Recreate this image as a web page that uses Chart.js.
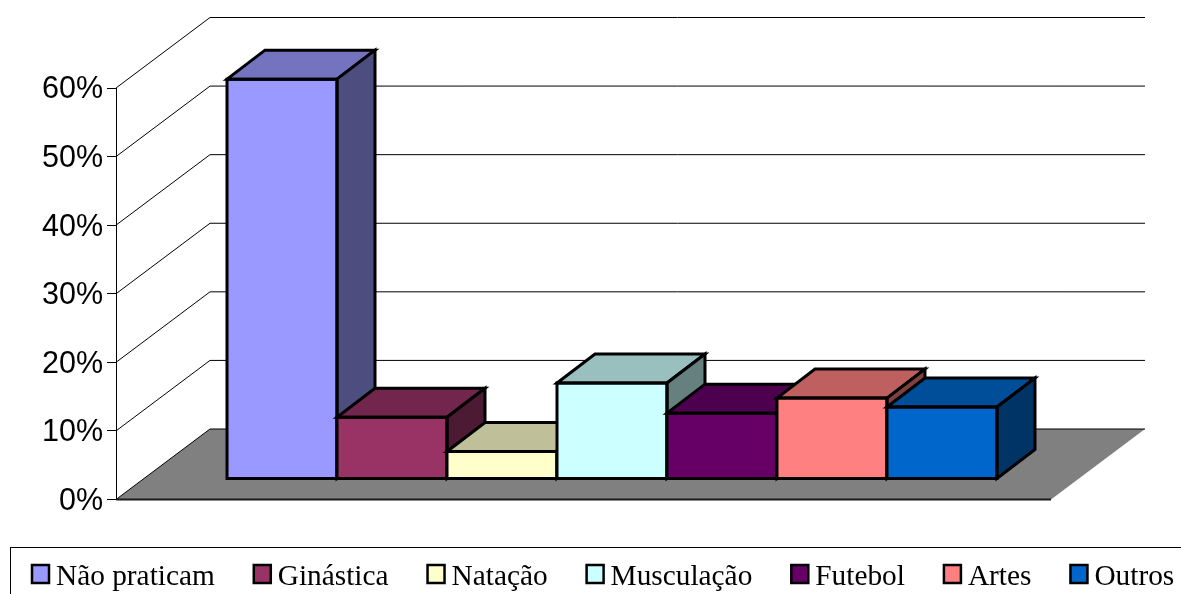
<!DOCTYPE html>
<html>
<head>
<meta charset="utf-8">
<title>Atividades</title>
<script src="https://cdn.jsdelivr.net/npm/chart.js@4"></script>
<style>
  body { margin: 0; background: #fff; }
  canvas { display: block; }
</style>
</head>
<body>
<canvas id="grafico" width="1181" height="594"></canvas>
<script>
const categorias = ["Não praticam", "Ginástica", "Natação", "Musculação", "Futebol", "Artes", "Outros"];
const valores = [58.3, 9, 4, 14, 9.6, 11.8, 10.5];
const cores = ["#9999FF", "#993366", "#FFFFCC", "#CCFFFF", "#660066", "#FF8080", "#0066CC"];

// profundidade do fundo do grafico e das barras
const WALL_DX = 94, WALL_DY = -70.5;
const BAR_DX = 38, BAR_DY = -29;
const BAR_SHIFT_X = 28.5, BAR_SHIFT_Y = -20.5;

function escurecer(hex, f) {
  const n = parseInt(hex.slice(1), 16);
  const r = Math.round((n >> 16 & 255) * f);
  const g = Math.round((n >> 8 & 255) * f);
  const b = Math.round((n & 255) * f);
  return `rgb(${r},${g},${b})`;
}

function poly(ctx, pts, fill, stroke, lw) {
  ctx.beginPath();
  pts.forEach((p, i) => (i ? ctx.lineTo(p[0], p[1]) : ctx.moveTo(p[0], p[1])));
  ctx.closePath();
  if (fill) {
    ctx.fillStyle = fill;
    ctx.fill();
  }
  if (stroke) {
    ctx.strokeStyle = stroke;
    ctx.lineWidth = lw;
    ctx.stroke();
  }
}

// paredes e chao
const fundo3d = {
  id: "fundo3d",
  beforeDatasetsDraw(chart) {
    const { ctx, chartArea: a, scales: { y } } = chart;
    ctx.save();
    poly(ctx, [
      [a.left, a.bottom],
      [a.left + WALL_DX, a.bottom + WALL_DY],
      [a.right + WALL_DX, a.bottom + WALL_DY],
      [a.right, a.bottom]
    ], "#808080");

    ctx.strokeStyle = "#000";
    ctx.lineWidth = 1;
    y.ticks.forEach((t) => {
      const py = y.getPixelForValue(t.value);
      ctx.beginPath();
      ctx.moveTo(a.left, py);
      ctx.lineTo(a.left + WALL_DX, py + WALL_DY);
      ctx.lineTo(a.right + WALL_DX, py + WALL_DY);
      ctx.stroke();
    });

    // borda da frente do chao
    ctx.lineWidth = 2;
    ctx.strokeStyle = "#1a1a1a";
    ctx.beginPath();
    ctx.moveTo(a.left, a.bottom);
    ctx.lineTo(a.right, a.bottom);
    ctx.stroke();
    ctx.restore();
  },
  // as barras sao desenhadas todas juntas, da esquerda para a direita
  beforeDatasetDraw() {
    return false;
  },
  afterDatasetsDraw(chart) {
    const { ctx } = chart;
    ctx.save();
    ctx.translate(BAR_SHIFT_X, BAR_SHIFT_Y);
    ctx.lineJoin = "miter";
    chart.data.datasets.forEach((ds, i) => {
      const bar = chart.getDatasetMeta(i).data[0];
      const { x, y, base, width } = bar.getProps(["x", "y", "base", "width"], true);
      const l = x - width / 2, r = x + width / 2;
      bar.draw(ctx);
      poly(ctx, [[l, y], [l + BAR_DX, y + BAR_DY], [r + BAR_DX, y + BAR_DY], [r, y]],
        escurecer(ds.backgroundColor, 0.75), "#000", 3);
      poly(ctx, [[r, y], [r + BAR_DX, y + BAR_DY], [r + BAR_DX, base + BAR_DY], [r, base]],
        escurecer(ds.backgroundColor, 0.5), "#000", 3);
      poly(ctx, [[l, y], [r, y], [r, base], [l, base]], null, "#000", 3);
    });
    ctx.restore();
  }
};

// legenda em caixa, cortada pela borda de baixo
const legenda = {
  id: "legenda",
  afterDraw(chart) {
    const { ctx } = chart;
    ctx.save();
    ctx.strokeStyle = "#000";
    ctx.lineWidth = 1;
    ctx.strokeRect(10.5, 547.5, 1200, 80);
    ctx.font = "29.33px 'Liberation Serif'";
    ctx.textBaseline = "alphabetic";
    let x = 32;
    chart.data.datasets.forEach((ds) => {
      ctx.fillStyle = ds.backgroundColor;
      ctx.fillRect(x, 565, 17, 18);
      ctx.lineWidth = 2.5;
      ctx.strokeRect(x, 565, 17, 18);
      ctx.fillStyle = "#000";
      ctx.fillText(ds.label, x + 24, 585);
      x += 24 + ctx.measureText(ds.label).width + 39;
    });
    ctx.restore();
  }
};

new Chart(document.getElementById("grafico"), {
  type: "bar",
  data: {
    labels: [""],
    datasets: categorias.map((nome, i) => ({
      label: nome,
      data: [valores[i]],
      backgroundColor: cores[i],
      borderWidth: 0,
      inflateAmount: 0
    }))
  },
  plugins: [fundo3d, legenda],
  options: {
    responsive: false,
    animation: false,
    layout: { padding: { top: 88, right: 130, bottom: 94.5, left: 0 } },
    datasets: { bar: { categoryPercentage: 0.8235, barPercentage: 1 } },
    plugins: { legend: { display: false }, tooltip: { enabled: false } },
    scales: {
      x: { display: false },
      y: {
        min: 0,
        max: 60,
        afterFit(scale) {
          scale.width = 116;
        },
        border: { display: true, color: "#000", width: 1 },
        grid: { drawOnChartArea: false, drawTicks: true, tickLength: 9, color: "#000" },
        ticks: {
          stepSize: 10,
          padding: 4,
          labelOffset: 2,
          color: "#000",
          font: { family: "'Liberation Sans'", size: 30.5 },
          callback: (v) => v + "%"
        }
      }
    }
  }
});
</script>
</body>
</html>
